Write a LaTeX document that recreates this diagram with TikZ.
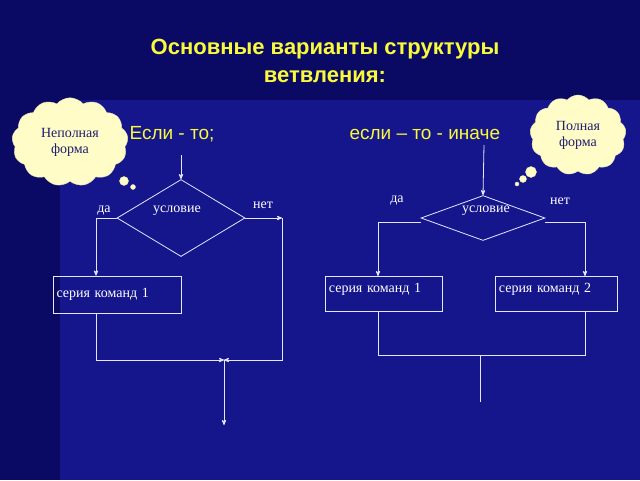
\documentclass[tikz,border=0pt]{standalone}
\usepackage{fontspec}
\setmainfont{Liberation Serif}
\newfontfamily\titlefont{Liberation Sans}
\usetikzlibrary{shapes.geometric, shapes.symbols, positioning, arrows}
\definecolor{bgblue}{RGB}{22,22,140}
\definecolor{bgdark}{RGB}{10,10,100}
\definecolor{ttlyellow}{RGB}{250,250,60}
\definecolor{cloudfill}{RGB}{255,252,200}
\definecolor{cloudtext}{RGB}{30,30,110}
\tikzset{
>=stealth', % small arrow heads
line/.style={draw=white!90!blue, line width=0.8pt}, % flowchart lines
cond/.style={diamond, draw=white!90!blue, line width=0.8pt, aspect=1.6, minimum width=128pt, minimum height=77pt, inner sep=0pt}, % condition
cmdbox/.style={draw=white!90!blue, line width=0.8pt, text=white, font=\fontsize{14}{15}\selectfont, align=left, inner sep=3pt}, % command box
lbl/.style={text=white, font=\fontsize{14}{15}\selectfont}, % branch labels
thought/.style={cloud, cloud puffs=13, cloud puff arc=100, fill=cloudfill, draw=cloudfill!80!gray, align=center, text=cloudtext, font=\fontsize{14}{16}\selectfont, inner sep=0pt}, % thought cloud
bubble/.style={circle, fill=cloudfill, draw=cloudfill!80!gray, inner sep=0pt}, % cloud tail
}
\begin{document}
\begin{tikzpicture}[x=1pt, y=-1pt]
  % background
  \fill[bgblue] (0,0) rectangle (640,480);
  \fill[bgdark] (0,0) rectangle (640,100);
  \fill[bgdark] (0,100) rectangle (60,480);
  \useasboundingbox (0,0) rectangle (640,480);
  % title
  \node[text=ttlyellow, font=\titlefont\bfseries\fontsize{22}{28}\selectfont, align=center] (title) at (325,61) {Основные варианты структуры\\ветвления:};
  \node[text=ttlyellow, font=\titlefont\fontsize{19}{22}\selectfont] (sub1) at (172,134) {Если - то;};
  \node[text=ttlyellow, font=\titlefont\fontsize{19}{22}\selectfont, anchor=west] (sub2) at (346,134) {если – то - иначе};
  % left: incomplete form
  \coordinate (in1) at (181,155);
  \node[cond] (c1) at (181,218) {};
  \node[lbl] (u1) at (177,211) {условие};
  \node[lbl] (da1) at (104,211) {да};
  \node[lbl] (net1) at (263,205) {нет};
  \node[cmdbox, minimum width=128pt, minimum height=37pt, text width=121pt] (s1) at (117,294.5) {серия команд 1};
  \coordinate (l1) at (96,218);
  \coordinate (r1) at (282,218);
  \coordinate (r1b) at (282,360);
  \coordinate (j1) at (224,360);
  \coordinate (lb1) at (96,360);
  \coordinate (out1) at (224,425);
  \draw[line, ->] (in1) -- (c1.north);
  \draw[line, ->] (c1.west) -- (l1) -- (s1.north -| l1);
  \draw[line, ->] (c1.east) -- (r1);
  \draw[line, ->] (r1) -- (r1b) -- (j1);
  \draw[line, ->] (s1.south -| lb1) -- (lb1) -- (j1);
  \draw[line, ->] (j1) -- (out1);
  % right: complete form
  \coordinate (in2) at (484,145);
  \node[cond, minimum width=124pt, minimum height=45pt, aspect=2.7] (c2) at (483,218) {};
  \node[lbl] (u2) at (486,211) {условие};
  \node[lbl] (da2) at (397,201) {да};
  \node[lbl] (net2) at (560,201) {нет};
  \node[cmdbox, minimum width=117pt, minimum height=35pt, text width=110pt, anchor=north west] (s2) at (325,276) {серия команд 1\\[-2pt]\phantom{x}};
  \node[cmdbox, minimum width=122pt, minimum height=35pt, text width=115pt, anchor=north west] (s3) at (495,276) {серия команд 2\\[-2pt]\phantom{x}};
  \coordinate (l2) at (378,222);
  \coordinate (r2) at (585,222);
  \coordinate (lb2) at (378,355);
  \coordinate (rb2) at (585,355);
  \coordinate (j2) at (480,355);
  \coordinate (out2) at (480,402);
  \draw[line, ->] (in2) -- (c2.north);
  \draw[line, ->] (c2.west |- l2) -- (l2) -- (s2.north -| l2);
  \draw[line, ->] (c2.east |- r2) -- (r2) -- (s3.north -| r2);
  \draw[line] (s2.south -| lb2) -- (lb2) -- (rb2) -- (s3.south -| rb2);
  \draw[line] (j2) -- (out2);
  % thought clouds
  \node[thought, minimum width=116pt, minimum height=84pt] (cl1) at (70,142) {Неполная\\форма};
  \node[bubble, minimum size=9pt] (b1a) at (124,181) {};
  \node[bubble, minimum size=5pt] (b1b) at (133,187) {};
  \node[thought, minimum width=96pt, minimum height=80pt] (cl2) at (578,135) {Полная\\форма};
  \node[bubble, minimum size=11pt] (b2a) at (531,172) {};
  \node[bubble, minimum size=7pt] (b2b) at (523,179) {};
  \node[bubble, minimum size=4pt] (b2c) at (517,184) {};
\end{tikzpicture}
\end{document}
